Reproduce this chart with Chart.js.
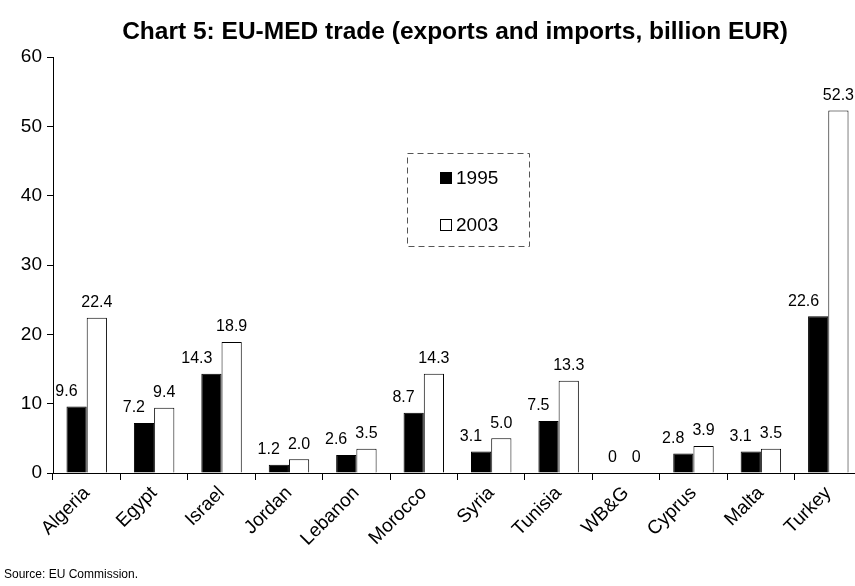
<!DOCTYPE html>
<html>
<head>
<meta charset="utf-8">
<script src="https://cdn.jsdelivr.net/npm/chart.js@4.4.1/dist/chart.umd.min.js"></script>
<style>
  html, body { margin: 0; padding: 0; background: #fff; overflow: hidden; }
  #wrap { width: 870px; height: 586px; }
</style>
</head>
<body>
<div id="wrap"><canvas id="grafikDagang" width="870" height="586"></canvas></div>
<script>
const negara = ['Algeria', 'Egypt', 'Israel', 'Jordan', 'Lebanon', 'Morocco', 'Syria', 'Tunisia', 'WB&G', 'Cyprus', 'Malta', 'Turkey'];
const tahun = ['1995', '2003'];
const nilai1995 = [9.6, 7.2, 14.3, 1.2, 2.6, 8.7, 3.1, 7.5, 0, 2.8, 3.1, 22.6];
const nilai2003 = [22.4, 9.4, 18.9, 2.0, 3.5, 14.3, 5.0, 13.3, 0, 3.9, 3.5, 52.3];
const tickY = [0, 10, 20, 30, 40, 50, 60];

const FONT = '"Liberation Sans", Arial, sans-serif';

// angka di atas tiap batang: seri pertama rata kanan, seri kedua di tengah
const labelNilai = {
  id: 'labelNilai',
  afterDatasetsDraw(chart) {
    const ctx = chart.ctx;
    ctx.save();
    ctx.font = '16px ' + FONT;
    ctx.fillStyle = '#000';
    ctx.textBaseline = 'bottom';
    chart.data.datasets.forEach((ds, i) => {
      ctx.textAlign = i === 0 ? 'right' : 'center';
      chart.getDatasetMeta(i).data.forEach((bar, j) => {
        const v = ds.data[j];
        const x = i === 0 ? bar.x + 1 : bar.x;
        ctx.fillText(v === 0 ? '0' : v.toFixed(1), x, bar.y - 7);
      });
    });
    ctx.restore();
  }
};

// judul, legenda dalam kotak putus-putus, sumber data
const hiasan = {
  id: 'hiasan',
  afterDraw(chart) {
    const ctx = chart.ctx;
    ctx.save();
    ctx.fillStyle = '#000';
    ctx.font = 'bold 24.5px ' + FONT;
    ctx.textAlign = 'center';
    ctx.textBaseline = 'middle';
    ctx.fillText('Chart 5: EU-MED trade (exports and imports, billion EUR)', 455, 32);

    ctx.strokeStyle = '#555';
    ctx.lineWidth = 1;
    ctx.setLineDash([6, 4]);
    ctx.strokeRect(407.5, 153.5, 122, 93);
    ctx.setLineDash([]);
    ctx.font = '19px ' + FONT;
    ctx.textAlign = 'left';
    chart.data.datasets.forEach((ds, i) => {
      const y = 178 + i * 47;
      ctx.fillStyle = ds.backgroundColor;
      ctx.fillRect(440, y - 6, 12, 12);
      ctx.strokeStyle = '#000';
      ctx.strokeRect(440.5, y - 5.5, 11, 11);
      ctx.fillStyle = '#000';
      ctx.fillText(ds.label, 456, y + 1);
    });

    ctx.font = '12px ' + FONT;
    ctx.textBaseline = 'alphabetic';
    ctx.fillText('Source: EU Commission.', 4, 578);
    ctx.restore();
  }
};

const ctx = document.getElementById('grafikDagang').getContext('2d');
const chart = new Chart(ctx, {
  type: 'bar',
  data: {
    labels: negara,
    datasets: [{
      label: tahun[0],
      data: nilai1995,
      backgroundColor: '#000',
      borderColor: '#000',
      borderWidth: 1
    }, {
      label: tahun[1],
      data: nilai2003,
      backgroundColor: '#fff',
      borderColor: '#000',
      borderWidth: 1
    }]
  },
  options: {
    responsive: false,
    animation: false,
    categoryPercentage: 0.6,
    barPercentage: 1.0,
    layout: { padding: { left: 0, right: 8, top: 57, bottom: 0 } },
    plugins: {
      legend: { display: false },
      tooltip: { enabled: false },
      title: { display: false }
    },
    scales: {
      x: {
        offset: true,
        grid: { display: true, offset: true, drawOnChartArea: false, tickLength: 7, color: '#000' },
        border: { color: '#000' },
        ticks: {
          color: '#000',
          font: { family: FONT, size: 19 },
          minRotation: 45,
          maxRotation: 45,
          padding: 2
        },
        afterFit(s) { s.height = 113; }
      },
      y: {
        min: 0,
        max: 60,
        afterBuildTicks(s) { s.ticks = tickY.map(v => ({ value: v })); },
        grid: { drawOnChartArea: false, tickLength: 6, color: '#000' },
        border: { color: '#000' },
        ticks: {
          color: '#000',
          font: { family: FONT, size: 19 },
          padding: 5
        },
        afterFit(s) { s.width = 53; }
      }
    }
  },
  plugins: [labelNilai, hiasan]
});
</script>
</body>
</html>
